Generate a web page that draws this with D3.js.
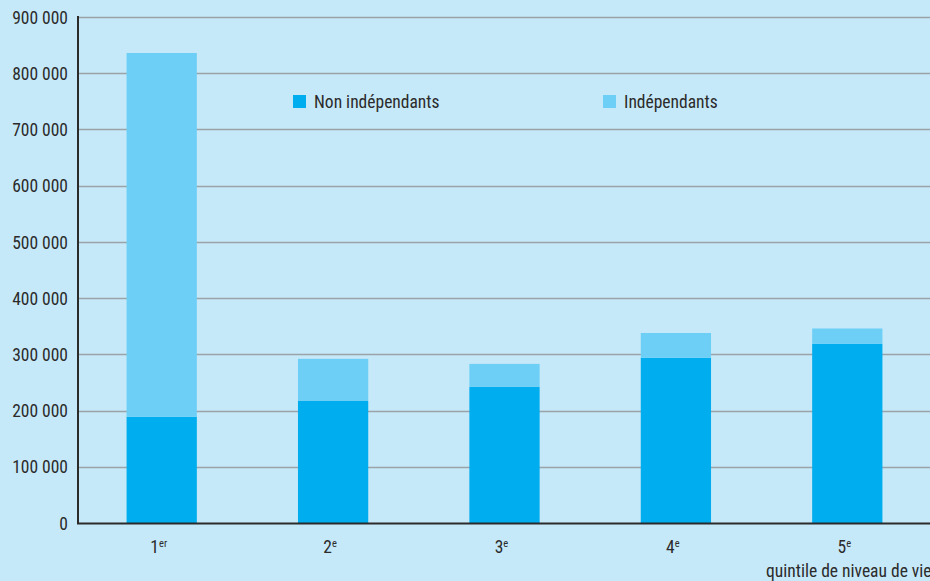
<!DOCTYPE html>
<html>
<head>
<meta charset="utf-8">
<script src="https://cdn.jsdelivr.net/npm/d3@7"></script>
<style>
  html, body { margin: 0; padding: 0; background: #c6e9f9; }
  svg { display: block; }
  text { font-family: "Liberation Sans Narrow", "Roboto Condensed", "Liberation Sans", sans-serif; fill: #2b2b2b; }
</style>
</head>
<body>
<svg id="chart" width="930" height="581"></svg>
<script>
// Quintiles and stacked series (number of persons)
const quintiles = ["1", "2", "3", "4", "5"];
const quintileSup = ["er", "e", "e", "e", "e"];
const nonIndependants = [189000, 217000, 242000, 294000, 319000];
const independants = [647000, 75000, 41000, 44000, 27000];
const seriesNames = ["Non indépendants", "Indépendants"];
const seriesColors = ["#00adee", "#6dcff6"];
const yTicks = [0, 100000, 200000, 300000, 400000, 500000, 600000, 700000, 800000, 900000];
const xTitle = "quintile de niveau de vie";

const svg = d3.select("#chart");
const W = 930, H = 581;
const margin = { left: 78, top: 17, bottom: 58 };
const y0 = H - margin.bottom;
const fs = "17.5px";

const x = d3.scaleBand().domain(quintiles).range([margin.left - 2, 933]).paddingInner(0.59).paddingOuter(0.295);
const y = d3.scaleLinear().domain([0, 900000]).range([y0, margin.top]);

const fmt = v => d3.format(",")(v).replace(/,/g, " ");

svg.append("rect").attr("width", W).attr("height", H).attr("fill", "#c6e9f9");

// Gridlines
svg.append("g").selectAll("line").data(yTicks.filter(d => d > 0)).join("line")
  .attr("x1", margin.left).attr("x2", W)
  .attr("y1", d => Math.round(y(d)) + 0.5).attr("y2", d => Math.round(y(d)) + 0.5)
  .attr("stroke", "#9aa3a8").attr("stroke-width", 1.3);

// Stacked bars
const rows = quintiles.map((q, i) => ({ q, a: nonIndependants[i], b: independants[i] }));
const stack = d3.stack().keys(["a", "b"])(rows);
svg.append("g").selectAll("g").data(stack).join("g")
  .attr("fill", (d, i) => seriesColors[i])
  .selectAll("rect").data(d => d).join("rect")
  .attr("x", d => x(d.data.q))
  .attr("width", x.bandwidth())
  .attr("y", d => y(d[1]))
  .attr("height", d => y(d[0]) - y(d[1]));

// Y axis
const yAxis = d3.axisLeft(y).tickValues(yTicks).tickFormat(fmt).tickSize(0).tickPadding(10);
const gy = svg.append("g").attr("transform", `translate(${margin.left},0)`).call(yAxis);
gy.select(".domain").remove();
gy.selectAll("text").style("font-size", fs).attr("fill", "#2b2b2b").attr("dy", "0.35em");
svg.append("line").attr("x1", margin.left).attr("x2", margin.left)
  .attr("y1", margin.top - 1).attr("y2", y0 + 1)
  .attr("stroke", "#2b2b2b").attr("stroke-width", 2);

// X axis
svg.append("line").attr("x1", margin.left - 1).attr("x2", W)
  .attr("y1", y0 + 0.5).attr("y2", y0 + 0.5)
  .attr("stroke", "#2b2b2b").attr("stroke-width", 2);
const xl = svg.append("g").selectAll("text").data(quintiles).join("text")
  .attr("x", d => x(d) + x.bandwidth() / 2 - 3)
  .attr("y", y0 + 30)
  .attr("text-anchor", "middle")
  .style("font-size", fs);
xl.append("tspan").text(d => d);
xl.append("tspan").text((d, i) => quintileSup[i]).attr("dy", "-6").style("font-size", "10.5px");

svg.append("text").attr("x", 766).attr("y", H - 4).style("font-size", fs).text(xTitle);

// Legend
const legX = [293, 603];
const leg = svg.append("g").selectAll("g").data(seriesNames).join("g")
  .attr("transform", (d, i) => `translate(${legX[i]},95)`);
leg.append("rect").attr("width", 13).attr("height", 13).attr("fill", (d, i) => seriesColors[i]);
leg.append("text").attr("x", 21).attr("y", 7).attr("dy", "0.35em").style("font-size", fs).text(d => d);
</script>
</body>
</html>
